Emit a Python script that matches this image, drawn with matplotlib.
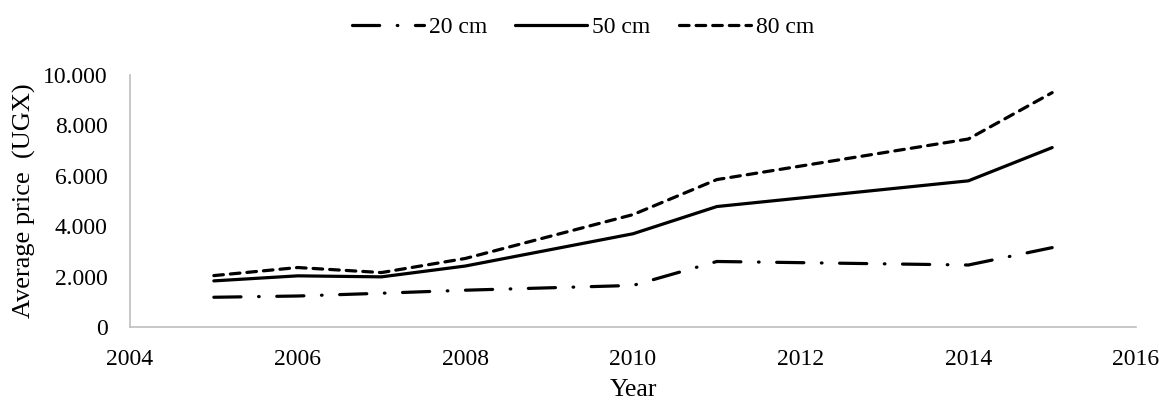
import matplotlib
matplotlib.use("Agg")
import matplotlib.pyplot as plt
from matplotlib.ticker import FuncFormatter

# data
years = [2005, 2006, 2007, 2008, 2010, 2011, 2014, 2015]
price_20cm = [1180, 1230, 1340, 1460, 1650, 2600, 2460, 3150]
price_50cm = [1830, 2030, 1990, 2420, 3700, 4780, 5800, 7120]
price_80cm = [2040, 2360, 2160, 2720, 4460, 5850, 7460, 9300]
series_labels = ["20 cm", "50 cm", "80 cm"]

plt.rcParams['font.family'] = ['Liberation Serif', 'DejaVu Serif']

fig = plt.figure(figsize=(11.59, 4.05), dpi=100)
ax = fig.add_axes([130 / 1159, 1 - 327 / 405, (1136 - 130) / 1159, (327 - 75) / 405])

lw = 2.3
ax.plot(years, price_20cm, color='black', lw=lw, dashes=[8.5, 5.5, 0.2, 5.5],
        dash_capstyle='round', solid_capstyle='round', label=series_labels[0])
ax.plot(years, price_50cm, color='black', lw=lw, solid_capstyle='round',
        label=series_labels[1])
ax.plot(years, price_80cm, color='black', lw=lw, dashes=[3, 2.2],
        dash_capstyle='round', label=series_labels[2])

ax.set_xlim(2004, 2016)
ax.set_ylim(0, 10000)
ax.set_xticks(range(2004, 2017, 2))
ax.set_yticks(range(0, 10001, 2000))
ax.yaxis.set_major_formatter(FuncFormatter(lambda v, p: f"{int(v):,}".replace(",", ".")))
ax.tick_params(length=0, labelsize=17)
ax.tick_params(axis='y', pad=16)
ax.tick_params(axis='x', pad=15.5)

for side in ['top', 'right']:
    ax.spines[side].set_visible(False)
for side in ['left', 'bottom']:
    ax.spines[side].set_color('#bfbfbf')
    ax.spines[side].set_linewidth(1.2)

ax.set_xlabel('Year', fontsize=18.5, labelpad=7)
ax.set_ylabel('Average price  (UGX)', fontsize=19, labelpad=5)

fig.legend(loc='upper center', bbox_to_anchor=(0.503, 1.012), ncol=3, frameon=False,
           fontsize=17, handlelength=3.05, columnspacing=1.2, handletextpad=0.2)

fig.savefig('out.png', dpi=100)
